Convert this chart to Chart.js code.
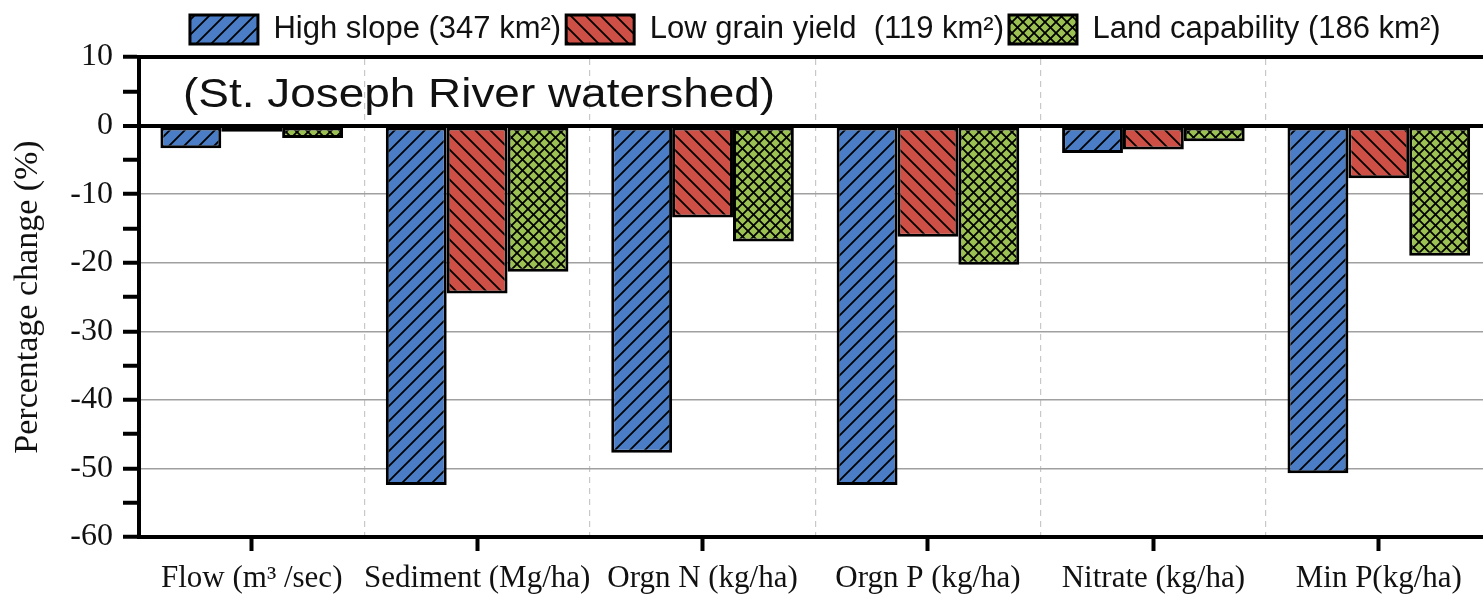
<!DOCTYPE html>
<html>
<head>
<meta charset="utf-8">
<script src="https://cdn.jsdelivr.net/npm/chart.js@4.4.1/dist/chart.umd.min.js"></script>
<style>
  html, body { margin: 0; padding: 0; background: #fff; overflow: hidden; }
  #wrap { position: relative; width: 1500px; height: 597px; }
</style>
</head>
<body>
<div id="wrap"><canvas id="chart"></canvas></div>
<script>
// categories and values
const categories = ['Flow (m³ /sec)', 'Sediment (Mg/ha)', 'Orgn N (kg/ha)', 'Orgn P (kg/ha)', 'Nitrate (kg/ha)', 'Min P(kg/ha)'];
const seriesNames = ['High slope (347 km²)', 'Low grain yield  (119 km²)', 'Land capability (186 km²)'];
const highSlope = [-3.3, -52.4, -47.7, -52.4, -4.0, -50.7];
const lowGrain = [-0.9, -24.5, -13.4, -16.2, -3.5, -7.7];
const landCapability = [-1.8, -21.3, -16.9, -20.3, -2.3, -19.0];
const yMin = -60, yMax = 10, yStep = 10;
const panelLabel = '(St. Joseph River watershed)';

const serif = '"Liberation Serif", "Times New Roman", serif';
const sans = '"Liberation Sans", Arial, sans-serif';

// hatch fills
function hatch(bg, dirs, s) {
    const c = document.createElement('canvas');
    c.width = s; c.height = s;
    const g = c.getContext('2d');
    g.fillStyle = bg;
    g.fillRect(0, 0, s, s);
    g.strokeStyle = '#000';
    g.lineWidth = 1.8;
    dirs.forEach(d => {
        g.beginPath();
        if (d === '/') {
            g.moveTo(-2, s + 2); g.lineTo(s + 2, -2);
            g.moveTo(-2, 2); g.lineTo(2, -2);
            g.moveTo(s - 2, s + 2); g.lineTo(s + 2, s - 2);
        } else {
            g.moveTo(-2, -2); g.lineTo(s + 2, s + 2);
            g.moveTo(s - 2, -2); g.lineTo(s + 2, 2);
            g.moveTo(-2, s - 2); g.lineTo(2, s + 2);
        }
        g.stroke();
    });
    return g.createPattern(c, 'repeat');
}

const fills = [
    hatch('#4a7dc5', ['/'], 15),
    hatch('#cd4f45', ['\\'], 15),
    hatch('#9cc153', ['/', '\\'], 11)
];
const seriesData = [highSlope, lowGrain, landCapability];

// panel label inside the plot
const panelText = {
    id: 'panelText',
    afterDatasetsDraw(chart) {
        const {ctx, chartArea} = chart;
        ctx.save();
        ctx.font = '41px ' + sans;
        ctx.fillStyle = '#111';
        ctx.textBaseline = 'alphabetic';
        ctx.translate(chartArea.left + 44, chartArea.top + 50);
        ctx.scale(1.12, 1);
        ctx.fillText(panelLabel, 0, 0);
        ctx.restore();
    }
};

const chart = new Chart(document.getElementById('chart'), {
    type: 'bar',
    data: {
        labels: categories,
        datasets: seriesNames.map((name, i) => ({
            label: name,
            data: seriesData[i],
            backgroundColor: fills[i],
            borderColor: '#000',
            borderWidth: 3,
            borderSkipped: false,
            categoryPercentage: 0.81,
            barPercentage: 1.0
        }))
    },
    options: {
        responsive: true,
        maintainAspectRatio: false,
        animation: false,
        layout: { padding: { top: 4, right: 8.5, left: 0, bottom: 0 } },
        plugins: {
            tooltip: { enabled: false },
            legend: {
                position: 'top',
                fullSize: false,
                labels: {
                    font: { family: sans, size: 31 },
                    color: '#111',
                    boxWidth: 68,
                    boxHeight: 29,
                    padding: 5
                }
            }
        },
        scales: {
            x: {
                type: 'category',
                position: 'bottom',
                grid: {
                    offset: false,
                    drawOnChartArea: false,
                    drawTicks: true,
                    tickLength: 14,
                    tickColor: '#000',
                    tickWidth: 4
                },
                border: { color: '#000', width: 4 },
                ticks: {
                    font: { family: serif, size: 31 },
                    color: '#111',
                    padding: 9,
                    maxRotation: 0,
                    autoSkip: false
                },
                afterFit(scale) { scale.height = 60; }
            },
            x2: {
                type: 'category',
                position: 'top',
                labels: categories,
                grid: {
                    offset: true,
                    drawTicks: false,
                    color: '#c8c8c8',
                    lineWidth: 1.2
                },
                border: { color: '#000', width: 4, dash: [6, 5] },
                ticks: { display: false },
                afterFit(scale) { scale.height = 2; }
            },
            y: {
                min: yMin,
                max: yMax,
                grid: {
                    color: c => {
                        const v = c.tick.value;
                        if (v === 0) return '#000';
                        if (v % yStep === 0 && v > yMin && v < yMax) return '#a0a0a0';
                        return 'rgba(0,0,0,0)';
                    },
                    lineWidth: c => (c.tick.value === 0 ? 4 : 1.5),
                    tickLength: 16,
                    tickColor: '#000',
                    tickWidth: 4
                },
                border: { color: '#000', width: 4 },
                ticks: {
                    stepSize: yStep / 2,
                    autoSkip: false,
                    font: { family: serif, size: 32 },
                    color: '#111',
                    padding: 10,
                    callback: v => (v % yStep === 0 ? String(v) : '')
                },
                title: {
                    display: true,
                    text: 'Percentage change (%)',
                    font: { family: serif, size: 34 },
                    color: '#111',
                    padding: { top: 8, bottom: 0 }
                },
                afterFit(scale) { scale.width = 139; }
            }
        }
    },
    plugins: [panelText]
});

// nudge so the plot box sits where the original does
const dy = 57 - chart.chartArea.top;
chart.options.layout.padding.top += dy;
chart.update('none');
</script>
</body>
</html>
